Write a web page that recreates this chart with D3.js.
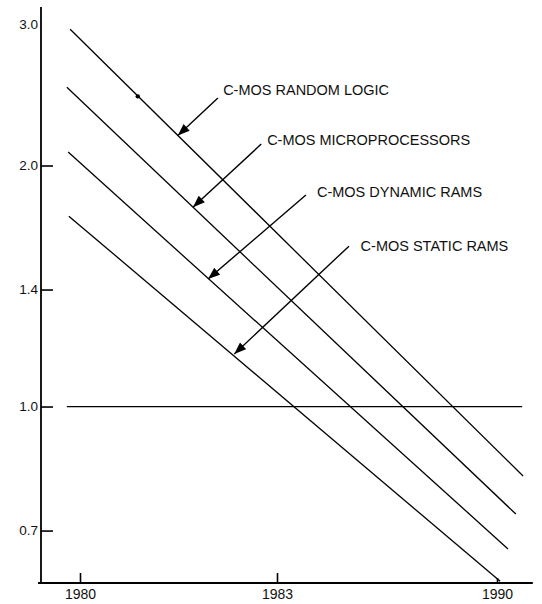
<!DOCTYPE html>
<html>
<head>
<meta charset="utf-8">
<script src="https://cdn.jsdelivr.net/npm/d3@7/dist/d3.min.js"></script>
<style>
  html, body { margin: 0; padding: 0; background: #fff; }
  svg { display: block; }
  text { font-family: "Liberation Sans", Arial, Helvetica, sans-serif; fill: #111; }
</style>
</head>
<body>
<svg id="chart" width="542" height="604"></svg>
<script>
// ---- data ----
const xTickYears = [1980, 1983, 1990];
const yTickValues = [0.7, 1.0, 1.4, 2.0, 3.0];
const seriesNames = ["C-MOS RANDOM LOGIC", "C-MOS MICROPROCESSORS", "C-MOS DYNAMIC RAMS", "C-MOS STATIC RAMS"];
const startYears = [1979.85, 1979.80, 1979.82, 1979.83];
const startValues = [2.96, 2.505, 2.079, 1.729];
const endYears = [1990.83, 1990.60, 1990.35, 1990.10];
const endValues = [0.819, 0.734, 0.664, 0.605];
const referenceValue = 1.0;
const referenceYears = [1979.80, 1990.80];
const arrowTipYears = [1981.49, 1981.72, 1981.95, 1982.35];
const arrowTipValues = [2.18, 1.774, 1.443, 1.163];
const arrowTailYears = [1982.10, 1982.76, 1983.92, 1985.29];
const arrowTailValues = [2.428, 2.127, 1.837, 1.586];
const labelYears = [1982.18, 1982.85, 1984.27, 1985.66];
const labelValues = [2.49, 2.151, 1.853, 1.586];
const markedPoint = [1980.88, 2.44];

// ---- scales ----
const svg = d3.select("#chart");
const x = d3.scaleLinear().domain(xTickYears).range([80, 277, 497]);
const y = d3.scaleLog().domain([0.602, 3.155]).range([583, 7]);
const axisX = 41, axisY = 583;

// arrow marker
svg.append("defs").append("marker")
  .attr("id", "arrow")
  .attr("viewBox", "0 0 12 9")
  .attr("refX", 12).attr("refY", 4.5)
  .attr("markerWidth", 13).attr("markerHeight", 9)
  .attr("markerUnits", "userSpaceOnUse")
  .attr("orient", "auto")
  .append("path").attr("d", "M0,0 L12,4.5 L0,9 Z").attr("fill", "#000");

// ---- axes ----
const yAxis = d3.axisLeft(y).tickValues(yTickValues).tickSizeInner(-12).tickSizeOuter(0)
  .tickPadding(3).tickFormat(d3.format(".1f"));
const gy = svg.append("g").attr("transform", `translate(${axisX},0)`).call(yAxis);
gy.select(".domain").remove();
gy.selectAll("line").attr("stroke", "#000").attr("stroke-width", 1.6);
gy.selectAll(".tick").filter(d => d === 3.0).select("line").remove();
gy.selectAll("text").style("font-size", "13.5px").attr("fill", "#111");

const xAxis = d3.axisBottom(x).tickValues(xTickYears).tickSizeInner(-10).tickSizeOuter(0)
  .tickPadding(6).tickFormat(d3.format("d"));
const gx = svg.append("g").attr("transform", `translate(0,${axisY})`).call(xAxis);
gx.select(".domain").remove();
gx.selectAll("line").attr("stroke", "#000").attr("stroke-width", 1.6);
gx.selectAll(".tick").filter(d => d === 1990).select("line").attr("y2", -5);
gx.selectAll("text").style("font-size", "14px").attr("fill", "#111");

// axis lines
svg.append("line").attr("x1", axisX).attr("x2", axisX).attr("y1", y.range()[1]).attr("y2", axisY + 1)
  .attr("stroke", "#000").attr("stroke-width", 1.8);
svg.append("line").attr("x1", axisX - 3).attr("x2", x(1991.14)).attr("y1", axisY).attr("y2", axisY)
  .attr("stroke", "#000").attr("stroke-width", 1.8);

// ---- reference line ----
svg.append("line")
  .attr("x1", x(referenceYears[0])).attr("x2", x(referenceYears[1]))
  .attr("y1", y(referenceValue)).attr("y2", y(referenceValue))
  .attr("stroke", "#000").attr("stroke-width", 1.3);

// ---- series lines ----
const lineGen = d3.line().x(d => x(d[0])).y(d => y(d[1]));
seriesNames.forEach((name, i) => {
  svg.append("path")
    .datum([[startYears[i], startValues[i]], [endYears[i], endValues[i]]])
    .attr("d", lineGen)
    .attr("fill", "none").attr("stroke", "#000").attr("stroke-width", 1.3);
});

// marked point
svg.append("circle").attr("cx", x(markedPoint[0])).attr("cy", y(markedPoint[1])).attr("r", 2.2).attr("fill", "#000");

// ---- annotations ----
seriesNames.forEach((name, i) => {
  svg.append("line")
    .attr("x1", x(arrowTailYears[i])).attr("y1", y(arrowTailValues[i]))
    .attr("x2", x(arrowTipYears[i])).attr("y2", y(arrowTipValues[i]))
    .attr("stroke", "#000").attr("stroke-width", 1.4)
    .attr("marker-end", "url(#arrow)");
  svg.append("text")
    .attr("x", x(labelYears[i])).attr("y", y(labelValues[i]))
    .attr("dy", "0.36em")
    .style("font-size", "14.5px")
    .text(name);
});
</script>
</body>
</html>
